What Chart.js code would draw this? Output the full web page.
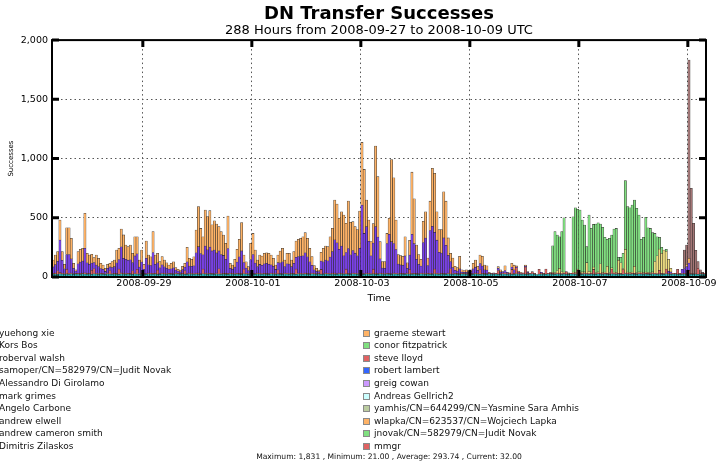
<!DOCTYPE html>
<html><head><meta charset="utf-8">
<script src="https://cdn.jsdelivr.net/npm/chart.js@4.4.0/dist/chart.umd.min.js"></script>
<style>
html,body{margin:0;padding:0;background:#fff;overflow:hidden;}
#wrap{position:relative;width:718px;height:463px;font-family:'DejaVu Sans',sans-serif;overflow:hidden;}
#c{position:absolute;left:0;top:0;}
.lg{position:absolute;font-size:9px;line-height:11px;color:#111;white-space:nowrap;}
.sw{position:absolute;width:7px;height:7px;border:1px solid #8a8a8a;box-sizing:border-box;}
#stats{position:absolute;left:60px;width:658px;top:452px;text-align:center;font-size:7.6px;line-height:10px;color:#111;white-space:nowrap;}
</style></head>
<body>
<div id="wrap"><canvas id="c" width="718" height="463"></canvas><div id="legend"></div><div id="stats"></div></div>
<script>
// ---------- categories / tick labels ----------
const hourLabels = [];
const startMs = Date.UTC(2008, 8, 27, 8);
for (let i = 0; i < 288; i++) {
  const d = new Date(startMs + i * 3600000);
  hourLabels.push(d.toISOString().slice(0, 13).replace('T', ' ') + ':00');
}
const tickDates = ['2008-09-29', '2008-10-01', '2008-10-03', '2008-10-05', '2008-10-07', '2008-10-09'];
const yTicks = [0, 500, 1000, 1500, 2000];

// ---------- series values (hourly successes) ----------
const korsBos = [
24,26,22,27,25,23,26,24,27,22,
25,26,23,28,25,24,26,22,27,25,
23,26,24,22,27,25,23,26,24,22,
27,25,23,26,24,22,27,25,23,26,
24,22,27,25,23,26,24,22,27,25,
23,26,24,22,27,25,23,26,24,22,
27,25,23,26,24,22,27,25,23,26,
24,22,27,25,23,26,24,22,27,25,
23,26,24,22,27,25,23,26,24,22,
27,25,23,26,24,22,27,25,23,26,
24,22,27,25,23,26,24,22,27,25,
23,26,24,22,27,25,23,26,24,22,
27,25,23,26,24,22,27,25,23,26,
24,22,27,25,23,26,24,22,27,25,
23,26,24,22,27,25,23,26,24,22,
27,25,23,26,24,22,27,25,23,26,
24,22,27,25,23,26,24,22,27,25,
23,26,24,22,27,25,23,26,24,22,
27,25,23,26,24,22,27,25,23,26,
24,22,27,25,23,26,24,22,27,25,
23,26,24,22,27,25,23,26,24,22,
25,27,24,21,25,26,23,24,27,25,
24,22,27,25,23,26,24,22,27,25,
23,26,24,22,27,25,23,26,24,22,
27,25,23,26,24,22,27,25,23,26,
24,22,27,25,23,26,24,22,27,25,
23,26,24,22,27,25,23,26,24,22,
27,25,23,25,26,24,22,23,25,22,
27,24,22,25,23,26,24,24];

const steveLloyd = [
6,8,30,12,6,6,40,8,6,6,
5,6,8,6,10,6,6,35,45,6,
6,6,6,5,6,30,6,6,6,45,
8,6,6,6,6,30,6,40,6,6,
6,6,6,6,8,6,35,6,6,6,
6,6,6,6,6,5,5,6,30,6,
6,6,6,8,10,6,40,6,6,6,
6,6,6,45,6,6,6,8,6,6,
6,6,6,8,40,6,6,6,6,6,
6,6,6,6,6,6,6,6,6,35,
6,6,6,6,6,6,6,45,6,6,
6,8,6,6,6,6,5,5,40,6,
6,6,6,8,10,6,6,6,6,40,
6,6,6,6,6,6,8,6,6,6,
6,40,8,6,6,6,6,6,6,6,
6,6,6,6,6,6,6,40,8,6,
6,6,6,6,6,6,8,6,40,6,
6,6,6,6,6,45,6,6,6,6,
5,5,5,4,6,6,6,6,40,6,
6,6,5,5,6,4,30,6,6,10,
6,9,40,8,50,6,6,9,60,10,
5,18,6,0,40,8,7,43,3,6,
6,6,6,8,6,6,21,6,3,6,
6,30,6,6,6,6,6,6,40,6,
6,6,6,6,6,6,40,6,6,6,
6,40,6,6,6,6,6,6,6,6,
6,6,6,6,6,6,6,30,6,6,
40,6,6,6,5,41,9,6,6,6,
30,6,6,6,50,6,6,8];

const yuehongXie = [
55,70,80,273,110,40,124,158,120,45,
20,80,95,100,207,90,75,60,50,70,
60,40,35,20,40,30,50,55,90,80,
220,126,120,110,115,70,145,130,55,95,
35,130,70,65,175,75,60,50,70,55,
45,35,40,50,25,20,15,30,30,100,
60,60,65,170,222,170,120,230,200,220,
190,200,170,150,160,150,120,210,40,35,
55,95,140,190,55,45,25,115,160,90,
55,75,70,80,85,80,70,60,35,60,
90,100,55,80,80,55,85,100,140,145,
150,170,140,100,65,30,20,15,70,100,
110,105,140,180,280,260,200,230,150,140,
210,160,190,170,150,210,575,340,392,270,
150,220,393,310,120,45,45,250,330,270,
250,200,80,70,70,150,40,120,330,250,
120,80,60,260,300,65,360,400,310,280,
180,170,300,240,150,60,50,25,20,40,
10,10,12,10,15,40,50,25,50,60,
30,30,0,0,6,0,20,15,12,20,
11,0,20,30,8,10,6,0,7,8,
0,0,0,0,0,6,0,0,0,4,
0,0,0,0,0,0,0,0,0,0,
0,0,0,0,0,0,0,0,0,0,
0,0,0,0,0,0,0,0,0,0,
0,0,0,0,0,0,0,0,0,0,
0,0,0,0,0,0,0,0,0,0,
0,18,14,0,0,0,0,36,40,60,
60,0,0,0,0,0,0,0];

const samoper = [
0,0,0,0,0,0,0,0,0,0,
0,0,0,0,0,0,0,0,0,0,
0,0,0,0,0,0,0,0,0,0,
0,0,0,0,0,0,0,0,0,0,
0,0,0,0,0,0,0,0,0,0,
0,0,0,0,0,0,0,0,0,0,
0,0,0,0,0,0,0,0,0,0,
0,0,0,0,0,0,0,0,0,0,
0,0,0,0,0,0,0,0,0,0,
0,0,0,0,0,0,0,0,0,0,
0,0,0,0,0,0,0,0,0,0,
0,0,0,0,0,0,0,0,0,0,
0,0,0,0,0,0,0,0,0,0,
0,0,0,0,0,0,0,0,0,0,
0,0,0,0,0,0,0,0,0,0,
0,0,0,0,0,0,0,0,0,0,
0,0,0,0,0,0,0,0,0,0,
0,0,0,0,0,0,0,0,0,0,
0,0,0,0,0,0,0,0,0,0,
0,0,0,0,0,0,0,0,0,0,
0,0,0,0,0,0,0,0,0,0,
0,0,0,0,0,0,0,0,0,5,
10,10,20,40,15,10,0,7,0,10,
10,10,10,15,10,90,20,10,20,10,
10,80,10,10,60,10,10,10,10,110,
90,10,200,10,10,10,60,10,10,10,
10,10,10,10,10,100,150,180,170,200,
150,100,30,0,0,0,0,0,0,0,
0,0,0,0,0,0,0,0];

const graemeStewart = [
58,82,82,169,73,38,226,226,173,42,
10,102,107,108,295,80,79,74,41,85,
69,43,36,26,34,30,51,56,108,95,
150,198,121,114,125,78,162,145,59,101,
42,146,83,74,177,79,81,52,69,57,
46,34,45,51,22,15,16,28,31,122,
65,59,76,193,338,212,153,304,281,308,
220,247,244,205,194,172,134,275,42,35,
65,106,148,240,64,53,33,137,178,110,
55,80,78,88,90,92,83,67,37,65,
99,114,55,89,91,56,99,137,145,150,
161,170,156,114,74,35,25,13,74,114,
119,120,171,197,336,328,262,290,344,247,
401,273,244,224,221,315,529,540,225,179,
121,164,680,509,145,54,56,86,135,694,
555,249,81,78,75,162,47,125,524,378,
120,82,57,179,221,63,248,489,498,239,
191,198,390,372,147,70,81,33,30,107,
18,15,20,10,15,47,60,34,73,83,
41,37,8,0,0,0,13,17,0,40,
0,0,31,40,10,9,5,0,10,5,
0,0,0,0,0,0,0,0,0,0,
0,0,0,0,0,0,0,0,0,0,
0,0,0,0,0,0,0,0,0,0,
0,0,0,0,0,0,0,0,0,0,
0,0,0,0,0,0,0,0,0,0,
0,0,0,0,0,0,0,0,0,0,
0,0,0,0,0,0,0,0,0,20,
40,0,0,0,0,0,0,0];

const conorFitzpatrick = [
0,0,0,0,0,0,0,0,0,0,
0,0,0,0,0,0,0,0,0,0,
0,0,0,0,0,0,0,0,0,0,
0,0,0,0,0,0,0,0,0,0,
0,0,0,0,0,0,0,0,0,0,
0,0,0,0,0,0,0,0,0,0,
0,0,0,0,0,0,0,0,0,0,
0,0,0,0,0,0,0,0,0,0,
0,0,0,0,0,0,0,0,0,0,
0,0,0,0,0,0,0,0,0,0,
0,0,0,0,0,0,0,0,0,0,
0,0,0,0,0,0,0,0,0,0,
0,0,0,0,0,0,0,0,0,0,
0,0,0,0,0,0,0,0,0,0,
0,0,0,0,0,0,0,0,0,0,
0,0,0,0,0,0,0,0,0,0,
0,0,0,0,0,0,0,0,0,0,
0,0,0,0,0,0,0,0,0,0,
0,0,0,0,0,0,0,0,0,0,
0,0,0,0,0,0,0,0,0,0,
0,0,0,0,0,0,0,0,0,0,
0,0,0,0,0,0,0,0,0,0,
224,345,301,267,339,458,0,0,0,468,
546,505,526,438,396,135,474,369,360,409,
415,336,380,293,228,288,277,364,371,24,
46,128,580,553,546,566,560,542,480,277,
296,462,376,372,331,237,161,99,50,0,
16,0,0,0,0,0,0,0,0,0,
0,0,0,0,0,0,0,0];

const robervalWalsh = [
0,0,0,0,0,0,0,0,0,0,
0,0,0,0,0,0,0,0,0,0,
0,0,0,0,0,0,0,0,0,0,
0,0,0,0,0,0,0,0,0,0,
0,0,0,0,0,0,0,0,0,0,
0,0,0,0,0,0,0,0,0,0,
0,0,0,0,0,0,0,0,0,0,
0,0,0,0,0,0,0,0,0,0,
0,0,0,0,0,0,0,0,0,0,
0,0,0,0,0,0,0,0,0,0,
0,0,0,0,0,0,0,0,0,0,
0,0,0,0,0,0,0,0,0,0,
0,0,0,0,0,0,0,0,0,0,
0,0,0,0,0,0,0,0,0,0,
0,0,0,0,0,0,0,0,0,0,
0,0,0,0,0,0,0,0,0,0,
0,0,0,0,0,0,0,0,0,0,
0,0,0,0,0,0,0,0,0,0,
0,0,0,0,0,0,0,0,0,0,
0,0,0,0,0,0,0,0,0,0,
0,0,0,0,0,0,0,0,0,0,
0,0,0,0,0,0,0,0,0,0,
0,0,0,0,0,0,0,0,0,0,
0,0,0,0,0,0,0,0,0,0,
0,0,0,0,0,0,0,0,0,0,
0,0,0,0,0,0,0,0,0,0,
0,0,0,0,0,0,0,0,0,0,
0,0,0,0,0,0,0,0,157,162,
1674,718,425,194,57,28,10,0];

// ---------- legend names (as in the reference) ----------
const legendLeft = ['yuehong xie', 'Kors Bos', 'roberval walsh', 'samoper/CN=582979/CN=Judit Novak',
  'Alessandro Di Girolamo', 'mark grimes', 'Angelo Carbone', 'andrew elwell', 'andrew cameron smith', 'Dimitris Zilaskos'];
const legendRight = ['graeme stewart', 'conor fitzpatrick', 'steve lloyd', 'robert lambert', 'greig cowan',
  'Andreas Gellrich2', 'yamhis/CN=644299/CN=Yasmine Sara Amhis', 'wlapka/CN=623537/CN=Wojciech Lapka',
  'jnovak/CN=582979/CN=Judit Novak', 'mmgr'];
const statsText = 'Maximum: 1,831 , Minimum: 21.00 , Average: 293.74 , Current: 32.00';

// ---------- wiring ----------
const seriesData = {
  'Kors Bos': korsBos, 'steve lloyd': steveLloyd, 'yuehong xie': yuehongXie,
  'samoper/CN=582979/CN=Judit Novak': samoper, 'graeme stewart': graemeStewart,
  'conor fitzpatrick': conorFitzpatrick, 'roberval walsh': robervalWalsh
};
for (const [n, a] of Object.entries(seriesData)) if (a.length !== 288) throw new Error(n + ' has ' + a.length);

const colors = {
  'yuehong xie': '#7a40ea', 'Kors Bos': '#22b8bc', 'roberval walsh': '#a47676',
  'samoper/CN=582979/CN=Judit Novak': '#efdf80', 'Alessandro Di Girolamo': '#b0b0ff', 'mark grimes': '#ffcc99',
  'Angelo Carbone': '#99ccff', 'andrew elwell': '#ff99cc', 'andrew cameron smith': '#cccc66', 'Dimitris Zilaskos': '#66cc99',
  'graeme stewart': '#ffb366', 'conor fitzpatrick': '#80e080', 'steve lloyd': '#e06262', 'robert lambert': '#3366ff',
  'greig cowan': '#cc99ff', 'Andreas Gellrich2': '#ccffff', 'yamhis/CN=644299/CN=Yasmine Sara Amhis': '#bbcca0',
  'wlapka/CN=623537/CN=Wojciech Lapka': '#ffb366', 'jnovak/CN=582979/CN=Judit Novak': '#80e080', 'mmgr': '#e06262'
};
const stackOrder = ['Kors Bos', 'steve lloyd', 'yuehong xie', 'samoper/CN=582979/CN=Judit Novak', 'graeme stewart',
  'conor fitzpatrick', 'roberval walsh'];
const allNames = legendLeft.concat(legendRight);
for (const n of allNames) if (!stackOrder.includes(n)) stackOrder.push(n);

const fam = "'DejaVu Sans', sans-serif";
const isMajor = i => i >= 0 && i < hourLabels.length && hourLabels[i].endsWith('00:00') && tickDates.includes(hourLabels[i].slice(0, 10));

const framePlugin = {
  id: 'frame',
  afterDatasetsDraw(chart) {
    const {ctx, chartArea: a, scales: {x, y}} = chart;
    ctx.save();
    ctx.strokeStyle = '#000';
    ctx.lineWidth = 3;
    ctx.beginPath();
    for (const v of yTicks) {
      const py = y.getPixelForValue(v);
      ctx.moveTo(a.left, py); ctx.lineTo(a.left + 7, py);
      ctx.moveTo(a.right - 7, py); ctx.lineTo(a.right, py);
    }
    for (let i = 0; i < hourLabels.length; i++) {
      if (!isMajor(i)) continue;
      const px = x.getPixelForValue(i - 0.5);
      ctx.moveTo(px, a.top); ctx.lineTo(px, a.top + 7);
      ctx.moveTo(px, a.bottom); ctx.lineTo(px, a.bottom - 7);
    }
    ctx.stroke();
    ctx.lineWidth = 2;
    ctx.strokeRect(a.left, a.top, a.right - a.left, a.bottom - a.top);
    ctx.restore();
  }
};

const chart = new Chart(document.getElementById('c'), {
  type: 'bar',
  data: {
    labels: hourLabels,
    datasets: stackOrder.map(n => ({
      label: n,
      data: seriesData[n] || [],
      backgroundColor: colors[n],
      borderColor: 'rgba(10,8,5,0.8)',
      borderWidth: 0.55,
      stack: 's',
      barPercentage: 1,
      categoryPercentage: 1
    }))
  },
  options: {
    responsive: false, animation: false, events: [],
    layout: {padding: {left: 0, right: 12, top: 0, bottom: 159}},
    plugins: {
      legend: {display: false}, tooltip: {enabled: false},
      title: {display: true, text: 'DN Transfer Successes', fullSize: false, color: '#000',
        font: {family: fam, size: 18, weight: 'bold', lineHeight: 1.1}, padding: {top: 4, bottom: 0}},
      subtitle: {display: true, text: '288 Hours from 2008-09-27 to 2008-10-09 UTC', fullSize: false, color: '#000',
        font: {family: fam, size: 13, lineHeight: 1.1}, padding: {top: 0, bottom: 2}}
    },
    scales: {
      x: {
        stacked: true, offset: true,
        grid: {offset: true, drawTicks: false, lineWidth: 1,
          color: c => isMajor(c.index) ? '#555' : 'rgba(0,0,0,0)'},
        border: {display: false, dash: [1.5, 3]},
        ticks: {autoSkip: false, maxRotation: 0, minRotation: 0, padding: 1, color: '#000',
          font: {family: fam, size: 9.5},
          callback: (v, i) => isMajor(i) ? hourLabels[i].slice(0, 10) : ''},
        title: {display: true, text: 'Time', color: '#000', font: {family: fam, size: 9.5}, padding: 0},
        afterFit(s) { s.height = 27; }
      },
      y: {
        stacked: true, min: 0, max: 2000,
        ticks: {stepSize: 500, padding: 4, color: '#000', font: {family: fam, size: 9.5}},
        grid: {drawTicks: false, color: '#555', lineWidth: 1},
        border: {display: false, dash: [1.5, 3]},
        title: {display: true, text: 'Successes', color: '#000', font: {family: fam, size: 7}, padding: {top: 7, bottom: 0}},
        afterFit(s) { s.width = 52; }
      }
    }
  },
  plugins: [framePlugin]
});

// ---------- legend (HTML, built from the chart's datasets) ----------
const lg = document.getElementById('legend');
function addItem(name, row, textX) {
  const yc = 333 + row * 12.6;
  const sw = document.createElement('div');
  sw.className = 'sw';
  sw.style.left = (textX - 11) + 'px';
  sw.style.top = (yc - 3.5) + 'px';
  sw.style.background = chart.data.datasets.find(d => d.label === name).backgroundColor;
  lg.appendChild(sw);
  const t = document.createElement('div');
  t.className = 'lg';
  t.style.left = textX + 'px';
  t.style.top = (yc - 5.5) + 'px';
  t.textContent = name;
  lg.appendChild(t);
}
legendLeft.forEach((n, i) => addItem(n, i, -1));
legendRight.forEach((n, i) => addItem(n, i, 374));
document.getElementById('stats').textContent = statsText;
</script>
</body></html>
